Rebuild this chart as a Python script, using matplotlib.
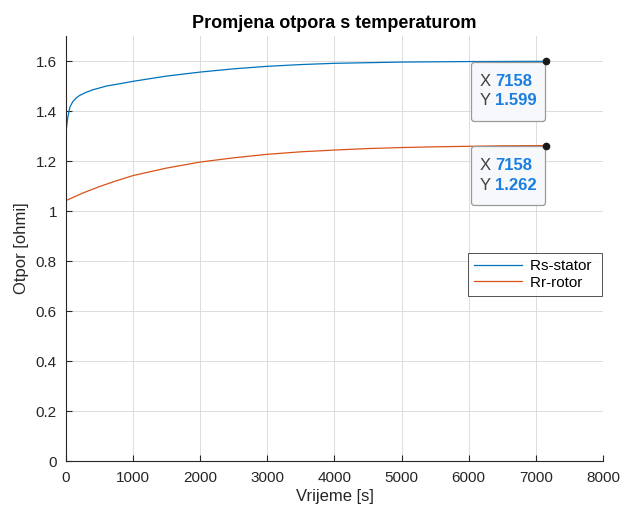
import matplotlib
matplotlib.use("Agg")
import matplotlib.pyplot as plt
from matplotlib.offsetbox import TextArea, HPacker, VPacker, AnnotationBbox, DrawingArea

plt.rcParams['font.family'] = ['Liberation Sans', 'DejaVu Sans']

# Data
t_rs = [0, 15, 30, 60, 100, 150, 200, 300, 400, 600, 900, 1000, 1500, 2000,
        2500, 3000, 3500, 4000, 5000, 6000, 7158]
rs = [1.316, 1.35, 1.38, 1.417, 1.437, 1.452, 1.462, 1.475, 1.485, 1.50,
      1.514, 1.519, 1.540, 1.556, 1.569, 1.579, 1.586, 1.591, 1.596, 1.598, 1.599]
t_rr = [0, 250, 500, 750, 1000, 1500, 2000, 2500, 3000, 3500, 4000, 4500,
        5000, 5500, 6000, 6500, 7158]
rr = [1.042, 1.072, 1.098, 1.121, 1.142, 1.172, 1.196, 1.213, 1.227, 1.237,
      1.244, 1.250, 1.254, 1.257, 1.259, 1.261, 1.262]
series_labels = ['Rs-stator', 'Rr-rotor']
tip_x = 7158
tip_rs = 1.599
tip_rr = 1.262

fig = plt.figure(figsize=(6.22, 5.08), dpi=100)
ax = fig.add_axes([0.1061, 0.0925, 0.8633, 0.8365])

c_rs = '#0072BD'
c_rr = '#D95319'
l1, = ax.plot(t_rs, rs, color=c_rs, lw=0.9)
l2, = ax.plot(t_rr, rr, color=c_rr, lw=0.9)

ax.set_xlim(0, 8000)
ax.set_ylim(0, 1.7)
ax.set_xticks(range(0, 8001, 1000))
ax.set_yticks([0, 0.2, 0.4, 0.6, 0.8, 1.0, 1.2, 1.4, 1.6])
ax.set_yticklabels(['0', '0.2', '0.4', '0.6', '0.8', '1', '1.2', '1.4', '1.6'])

for s in ['top', 'right']:
    ax.spines[s].set_visible(False)
for s in ['left', 'bottom']:
    ax.spines[s].set_color('#262626')
    ax.spines[s].set_linewidth(0.8)
ax.tick_params(direction='in', length=4, width=0.8, colors='#262626',
               labelsize=11, labelcolor='#262626')
ax.tick_params(axis='x', pad=7)
ax.tick_params(axis='y', pad=6.5)
ax.grid(True, color='#dcdcdc', lw=0.7)
ax.set_axisbelow(True)

ax.set_title('Promjena otpora s temperaturom', fontsize=13, fontweight='bold', pad=6)
ax.set_xlabel('Vrijeme [s]', fontsize=12, color='#262626', labelpad=3)
ax.set_ylabel('Otpor [ohmi]', fontsize=12, color='#262626', labelpad=5)

leg = ax.legend([l1, l2], [s + ' ' for s in series_labels],
                loc='upper left', bbox_to_anchor=(0.749, 0.489), fontsize=11,
                frameon=True, fancybox=False, edgecolor='#262626',
                handlelength=3.1, borderpad=0.4, labelspacing=0.15,
                handletextpad=0.55, borderaxespad=0)
leg.get_frame().set_linewidth(0.7)

# data tips
for yv in (tip_rs, tip_rr):
    ax.plot([tip_x], [yv], 'o', color='#1a1a1a', ms=4.5, zorder=5)
    fs = 12
    r1 = HPacker(children=[TextArea('X', textprops=dict(color='#404040', fontsize=fs)),
                           TextArea(f'{tip_x}', textprops=dict(color='#1a7fe0', fontsize=fs, fontweight='bold'))],
                 pad=0, sep=3)
    r2 = HPacker(children=[TextArea('Y', textprops=dict(color='#404040', fontsize=fs)),
                           TextArea(f'{yv:.3f}', textprops=dict(color='#1a7fe0', fontsize=fs, fontweight='bold'))],
                 pad=0, sep=3)
    box = VPacker(children=[DrawingArea(0, 0), r1, r2, DrawingArea(0, 0)],
                  pad=0, sep=3, align='left')
    ab = AnnotationBbox(box, (tip_x, yv), xybox=(-7.1, -6.3), boxcoords='offset points',
                        box_alignment=(1, 1), pad=0.6, frameon=True,
                        bboxprops=dict(boxstyle='round,pad=0.6,rounding_size=0.2',
                                       fc='#f7f8fb', ec='#9a9a9a', lw=0.9))
    ax.add_artist(ab)

fig.savefig('out.png', dpi=100)
